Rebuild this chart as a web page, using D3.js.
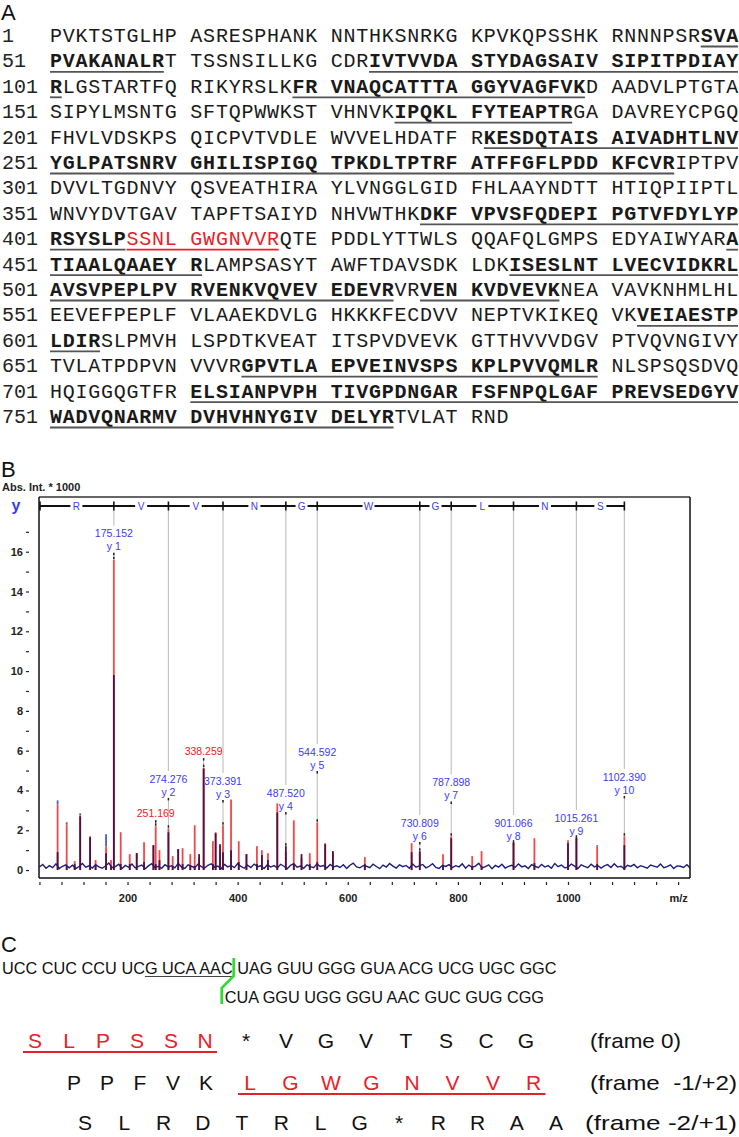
<!DOCTYPE html>
<html>
<head>
<meta charset="utf-8">
<script src="https://d3js.org/d3.v7.min.js"></script>
<style>
body { margin: 0; background: #fff; }
svg { display: block; }
</style>
</head>
<body>
<svg width="739" height="1137"></svg>
<script>
// ---------- panel A : protein sequence ----------
var seqRows = [
  "PVKTSTGLHP ASRESPHANK NNTHKSNRKG KPVKQPSSHK RNNNPSRSVA",
  "PVAKANALRT TSSNSILLKG CDRIVTVVDA STYDAGSAIV SIPITPDIAY",
  "RLGSTARTFQ RIKYRSLKFR VNAQCATTTA GGYVAGFVKD AADVLPTGTA",
  "SIPYLMSNTG SFTQPWWKST VHNVKIPQKL FYTEAPTRGA DAVREYCPGQ",
  "FHVLVDSKPS QICPVTVDLE WVVELHDATF RKESDQTAIS AIVADHTLNV",
  "YGLPATSNRV GHILISPIGQ TPKDLTPTRF ATFFGFLPDD KFCVRIPTPV",
  "DVVLTGDNVY QSVEATHIRA YLVNGGLGID FHLAAYNDTT HTIQPIIPTL",
  "WNVYDVTGAV TAPFTSAIYD NHVWTHKDKF VPVSFQDEPI PGTVFDYLYP",
  "RSYSLPSSNL GWGNVVRQTE PDDLYTTWLS QQAFQLGMPS EDYAIWYARA",
  "TIAALQAAEY RLAMPSASYT AWFTDAVSDK LDKISESLNT LVECVIDKRL",
  "AVSVPEPLPV RVENKVQVEV EDEVRVRVEN KVDVEVKNEA VAVKNHMLHL",
  "EEVEFPEPLF VLAAEKDVLG HKKKFECDVV NEPTVKIKEQ VKVEIAESTP",
  "LDIRSLPMVH LSPDTKVEAT ITSPVDVEVK GTTHVVVDGV PTVQVNGIVY",
  "TVLATPDPVN VVVRGPVTLA EPVEINVSPS KPLPVVQMLR NLSPSQSDVQ",
  "HQIGGQGTFR ELSIANPVPH TIVGPDNGAR FSFNPQLGAF PREVSEDGYV",
  "WADVQNARMV DVHVHNYGIV DELYRTVLAT RND"
];
// identified peptides (residue ranges, bold + underlined)
var peptides = [[48,59],[74,101],[119,139],[176,188],[232,295],[378,406],
                [450,461],[484,525],[528,537],[593,604],[665,690],[711,775]];
// frameshift peptide (red)
var redPeptide = [407,417];

// ---------- panel B : MS/MS spectrum ----------
var ionNames    = ["y 1","y 2","y 3","y 4","y 5","y 6","y 7","y 8","y 9","y 10"];
var ionMz       = [175.152, 274.276, 373.391, 487.520, 544.592, 730.809, 787.898, 901.066, 1015.261, 1102.390];
var ionLabels   = ["175.152","274.276","373.391","487.520","544.592","730.809","787.898","901.066","1015.261","1102.390"];
var ionLabelLvl = [16.9, 4.58, 4.47, 3.87, 5.93, 2.36, 4.4, 2.36, 2.6, 4.68];
var ionResidues = ["R","V","V","N","G","W","G","L","N","S"];
var otherMz     = [251.169, 338.259];
var otherLabels = ["251.169","338.259"];
var otherLvl    = [2.86, 5.98];
// peaks: [m/z, red stick, dark profile, blue tip]
var peaks = [
  [73,3.3,0.9,3.5],[89.5,2.3,0.2,2.4],[104,0.45,0.3,0],[114,2.75,2.7,2.85],[132,1.7,1.65,0],
  [142,0.5,0.2,0],[161,1.2,0.85,1.8],[170,0.5,0.2,0],[175.152,15.6,9.8,0],[187.6,1.9,0.3,0],
  [204,0.8,0.3,0],[216.7,0.85,0.85,0],[230,1.4,0.4,0],[247,1.25,1.25,0],[251.169,2.2,0.3,0],
  [258,1.0,0.5,0],[274.276,2.1,1.9,0],[282,0.7,0.2,0],[292,1.05,1.05,0],[300,1.1,0.3,0],
  [314,0.8,0.2,0],[322,2.25,0.2,0],[330,0.6,0.8,0],[338.259,5.15,5.1,0],[355,1.45,0.3,0],
  [360,1.9,1.85,0],[368,0.9,1.3,0],[373.391,2.25,0.9,0],[388,3.55,1.0,0],[402,1.45,0.4,0],
  [416,0.8,0.8,0],[435,1.2,0.3,0],[444,1.0,0.75,0],[455,0.85,0.5,0],[472,3.35,2.9,0],
  [487.52,0.9,1.2,0],[502,2.5,0.3,0],[516,0.6,0.8,0],[531,0.85,0.3,0],[544.592,2.4,0.4,0],
  [559,1.35,1.3,0],[573,0.9,0.95,0],[631,0.65,0.3,0],[716,1.35,0.9,0],[730.809,0.9,0.95,0],
  [773,0.8,0.2,0],[787.898,1.7,1.6,0],[826,0.7,0.2,0],[843,0.95,0.2,0],[901.066,1.35,1.35,0],
  [939,1.6,0.35,0],[1000,1.5,1.35,0],[1015.261,1.55,1.6,0],[1053,1.2,0.3,1.25],[1102.39,1.7,1.25,0]
];
// baseline noise of the profile trace, every 6 m/z from 40
var noise = [
  .15,.28,.09,.22,.12,.31,.08,.19,.26,.11, .24,.07,.18,.33,.14,.21,.10,.27,.16,.09,
  .20,.35,.12,.17,.29,.08,.23,.14,.30,.11, .18,.25,.06,.21,.32,.13,.19,.09,.27,.16,
  .22,.11,.34,.15,.08,.26,.19,.12,.29,.17, .10,.24,.31,.14,.20,.07,.28,.16,.23,.12,
  .33,.18,.09,.25,.13,.30,.17,.21,.08,.27, .15,.22,.11,.29,.19,.06,.24,.32,.14,.20,
  .09,.26,.17,.12,.31,.18,.23,.10,.28,.15, .21,.13,.27,.08,.24,.35,.16,.11,.22,.19,
  .12,.29,.18,.07,.25,.15,.33,.20,.10,.26, .17,.23,.09,.30,.14,.21,.28,.11,.19,.32,
  .13,.08,.24,.18,.27,.12,.22,.16,.31,.09, .25,.14,.20,.34,.11,.17,.26,.07,.23,.15,
  .29,.10,.18,.24,.13,.31,.16,.21,.08,.27, .19,.12,.28,.15,.22,.09,.33,.17,.25,.11,
  .14,.30,.20,.08,.26,.18,.12,.29,.16,.23, .10,.21,.27,.13,.32,.15,.19,.07,.24,.18,
  .28,.11,.22,.16,.09,.25,.20,.14,.30,.12, .17,.26,.08,.21,.19,.13,.27,.10
];
var yTicks = [0,2,4,6,8,10,12,14,16];
var xTicks = [200,400,600,800,1000];

// ---------- panel C : RNA and reading frames ----------
var rnaTop = "UCC CUC CCU UCG UCA AAC UAG GUU GGG GUA ACG UCG UGC GGC";
var rnaBottom = "CUA GGU UGG GGU AAC GUC GUG CGG";
var frameNames = ["(frame 0)", "(frame  -1/+2)", "(frame -2/+1)"];
var frameGroups = [
  [{aa:"SLPSSN", red:true}, {aa:"*VGVTSCG", red:false}],
  [{aa:"PPFVK", red:false}, {aa:"LGWGNVVR", red:true}],
  [{aa:"SLRDTRLG*RRAA", red:false}]
];

// ======================================================
var svg = d3.select("svg");
var mono = "'Liberation Mono','Courier New',monospace";
var sans = "'Liberation Sans',Arial,sans-serif";
var red = "#e8202a";
var blue = "#3b3bf5";

// panel letters
[["A",20],["B",477],["C",952]].forEach(function(p){
  svg.append("text").attr("x",1).attr("y",p[1]).text(p[0])
    .style("font-family",sans).style("font-size","22px").attr("fill","#111");
});

// ---- panel A
function styleOf(res){
  if (res >= redPeptide[0] && res <= redPeptide[1]) return "red";
  for (var i=0;i<peptides.length;i++) if (res>=peptides[i][0] && res<=peptides[i][1]) return "bold";
  return "plain";
}
var cw = 12.76, x0 = 50, rowBase = 42, rowStep = 25.4;
var gA = svg.append("g").style("font-family",mono).style("font-size","20px");
seqRows.forEach(function(row, r){
  var first = r*50 + 1, base = rowBase + r*rowStep;
  gA.append("text").attr("x",2).attr("y",base).attr("fill","#222").text(first);
  var chars = [], col = 0, k = 0;
  for (var i=0;i<row.length;i++){
    var c = row[i];
    if (c !== " ") { chars.push({c:c, col:col, res:first+k, st:styleOf(first+k)}); k++; }
    col++;
  }
  var runs = [];
  chars.forEach(function(d){
    var last = runs[runs.length-1];
    if (last && last.st === d.st) last.items.push(d); else runs.push({st:d.st, items:[d]});
  });
  runs.forEach(function(run){
    gA.append("text")
      .attr("x", run.items.map(function(d){return x0 + d.col*cw;}).join(" "))
      .attr("y", base)
      .attr("font-weight", run.st==="bold" ? "bold" : "normal")
      .attr("fill", run.st==="red" ? red : "#1a1a1a")
      .text(run.items.map(function(d){return d.c;}).join(""));
    if (run.st !== "plain") {
      var a = run.items[0], b = run.items[run.items.length-1];
      gA.append("line").attr("x1", x0 + a.col*cw).attr("x2", x0 + (b.col+1)*cw - 1)
        .attr("y1", base+4.5).attr("y2", base+4.5)
        .attr("stroke", run.st==="red" ? red : "#555").attr("stroke-width",1.8);
    }
  });
});

// ---- panel B
var pLeft = 39, pRight = 690, pTop = 497, pBottom = 878;
var x = d3.scaleLinear().domain([39.2, 1221.6]).range([pLeft, pRight]);
var y = d3.scaleLinear().domain([-0.4, 18.75]).range([pBottom, pTop]);

svg.append("text").attr("x",2).attr("y",491).text("Abs. Int. * 1000")
  .style("font-family",sans).style("font-size","11px").style("font-weight","bold").attr("fill","#222");

svg.append("defs").append("clipPath").attr("id","plotclip")
  .append("rect").attr("x",pLeft).attr("y",pTop).attr("width",pRight-pLeft).attr("height",pBottom-pTop);
var gB = svg.append("g");
var plot = gB.append("g").attr("clip-path","url(#plotclip)");

// gray guide lines from ladder to labels
ionMz.forEach(function(m,i){
  plot.append("line").attr("x1",x(m)).attr("x2",x(m))
    .attr("y1",510).attr("y2",y(ionLabelLvl[i])-8)
    .attr("stroke","#c4c4c4").attr("stroke-width",1.2);
});

// red sticks
plot.selectAll(".red").data(peaks).enter().append("line")
  .attr("x1",function(d){return x(d[0]);}).attr("x2",function(d){return x(d[0]);})
  .attr("y1",y(0)).attr("y2",function(d){return y(d[1]);})
  .attr("stroke","#f04848").attr("stroke-width",1.8);
// blue tips
plot.selectAll(".tip").data(peaks.filter(function(d){return d[3]>0;})).enter().append("line")
  .attr("x1",function(d){return x(d[0]);}).attr("x2",function(d){return x(d[0]);})
  .attr("y1",function(d){return y(d[1]);}).attr("y2",function(d){return y(d[3]);})
  .attr("stroke","#4e5bc2").attr("stroke-width",1.8);
// noise trace
plot.append("path").datum(noise)
  .attr("d", d3.line().x(function(d,i){return x(40 + i*6);}).y(function(d){return y(d);}))
  .attr("fill","none").attr("stroke","#1d1d7a").attr("stroke-width",1.4);
// dark profile sticks
plot.selectAll(".dark").data(peaks).enter().append("line")
  .attr("x1",function(d){return x(d[0]);}).attr("x2",function(d){return x(d[0]);})
  .attr("y1",y(0)).attr("y2",function(d){return y(d[2]);})
  .attr("stroke","#4a1242").attr("stroke-width",1.8);

function peakTop(m){
  var best = peaks[0];
  peaks.forEach(function(p){ if (Math.abs(p[0]-m) < Math.abs(best[0]-m)) best = p; });
  return Math.max(best[1], best[2], best[3]);
}
function connector(m, yStart){
  var yEnd = y(peakTop(m)) - 1;
  plot.append("line").attr("x1",x(m)).attr("x2",x(m)).attr("y1",yStart).attr("y2",yEnd)
    .attr("stroke","#bbb").attr("stroke-width",1);
  [yStart, yEnd-2].forEach(function(v){
    plot.append("line").attr("x1",x(m)).attr("x2",x(m)).attr("y1",v).attr("y2",v+2.5)
      .attr("stroke","#222").attr("stroke-width",1.5);
  });
}
var lab = gB.append("g").style("font-family",sans).style("font-size","10.5px");
ionMz.forEach(function(m,i){
  var ly = y(ionLabelLvl[i]);
  lab.append("text").attr("x",x(m)).attr("y",ly).attr("dy","0.35em").attr("text-anchor","middle")
    .attr("fill",blue).text(ionLabels[i]);
  lab.append("text").attr("x",x(m)).attr("y",ly+13).attr("dy","0.35em").attr("text-anchor","middle")
    .attr("fill",blue).text(ionNames[i]);
  connector(m, ly+19);
});
otherMz.forEach(function(m,i){
  var ly = y(otherLvl[i]);
  lab.append("text").attr("x",x(m)).attr("y",ly).attr("dy","0.35em").attr("text-anchor","middle")
    .attr("fill","#f02020").text(otherLabels[i]);
  connector(m, ly+7);
});

// ion ladder
var ladderY = 506;
var ladderPts = [x.domain()[0]].concat(ionMz);
gB.append("line").attr("x1",x(ladderPts[0])+1).attr("x2",x(ionMz[ionMz.length-1]))
  .attr("y1",ladderY).attr("y2",ladderY).attr("stroke","#111").attr("stroke-width",2);
ladderPts.forEach(function(m,i){
  var xx = i===0 ? x(m)+1 : x(m);
  gB.append("line").attr("x1",xx).attr("x2",xx).attr("y1",ladderY-4.5).attr("y2",ladderY+4.5)
    .attr("stroke","#111").attr("stroke-width",1.6);
});
ionResidues.forEach(function(r,i){
  var cx = (x(ladderPts[i]) + x(ladderPts[i+1]))/2;
  gB.append("rect").attr("x",cx-6).attr("y",ladderY-5).attr("width",12).attr("height",10).attr("fill","#fff");
  gB.append("text").attr("x",cx).attr("y",ladderY).attr("dy","0.35em").attr("text-anchor","middle")
    .style("font-family",sans).style("font-size","10px").attr("fill",blue).text(r);
});
gB.append("text").attr("x",16).attr("y",ladderY).attr("dy","0.3em").attr("text-anchor","middle")
  .style("font-family",sans).style("font-size","16px").style("font-weight","bold").attr("fill",blue).text("y");

// frame
gB.append("line").attr("x1",pLeft).attr("x2",pRight).attr("y1",pTop).attr("y2",pTop).attr("stroke","#666").attr("stroke-width",2);
gB.append("line").attr("x1",pLeft).attr("x2",pLeft).attr("y1",pTop).attr("y2",pBottom).attr("stroke","#111").attr("stroke-width",1.5);
gB.append("line").attr("x1",pRight).attr("x2",pRight).attr("y1",pTop).attr("y2",pBottom).attr("stroke","#111").attr("stroke-width",1.5);
gB.append("line").attr("x1",pLeft).attr("x2",pRight).attr("y1",pBottom).attr("y2",pBottom).attr("stroke","#111").attr("stroke-width",1.5);

// axes
var yMinor = d3.range(1,18,2);
var ya = gB.append("g").attr("transform","translate(29,0)")
  .call(d3.axisLeft(y).tickValues(yTicks.concat(yMinor)).tickSize(3).tickPadding(3)
    .tickFormat(function(d){ return yTicks.indexOf(d) >= 0 ? d : ""; }));
ya.select(".domain").remove();
var xMinor = d3.range(40,1201,40);
var xa = gB.append("g").attr("transform","translate(0,882)")
  .call(d3.axisBottom(x).tickValues(xMinor).tickSize(3).tickPadding(9)
    .tickFormat(function(d){ return xTicks.indexOf(d) >= 0 ? d : (d===1200 ? "m/z" : ""); }));
xa.select(".domain").remove();
[ya, xa].forEach(function(g){
  g.selectAll("text").style("font-family",sans).style("font-size","11px").style("font-weight","bold").attr("fill","#222");
  g.selectAll("line").attr("stroke","#222").attr("stroke-width",1.2);
});

// ---- panel C
var gC = svg.append("g").style("font-family",sans);
var t1 = gC.append("text").attr("x",2).attr("y",974).style("font-size","16.3px").attr("fill","#111").text(rnaTop);
var n1 = t1.node();
var ulStart = 2 + n1.getSubStringLength(0,14);
var ulEnd = 2 + n1.getSubStringLength(0,23);
gC.append("line").attr("x1",ulStart).attr("x2",ulEnd).attr("y1",976.5).attr("y2",976.5)
  .attr("stroke","#444").attr("stroke-width",1);
var gx = ulEnd + 1;
gC.append("path").attr("d","M"+gx+",958 L"+gx+",976 L"+(gx-12)+",988 L"+(gx-12)+",1004")
  .attr("fill","none").attr("stroke","#2ddc2d").attr("stroke-width",2.6);
gC.append("text").attr("x",gx-9).attr("y",1003).style("font-size","16.3px").attr("fill","#111").text(rnaBottom);

var frameLayout = [
  {base:1048, labelX:590, labelW:91,  groups:[[35,34],[246,40]]},
  {base:1090, labelX:590, labelW:147, groups:[[74,33],[250,40.5]]},
  {base:1130, labelX:585, labelW:152, groups:[[85,39.25]]}
];
frameGroups.forEach(function(groups, f){
  var L = frameLayout[f];
  groups.forEach(function(g, j){
    var start = L.groups[j][0], step = L.groups[j][1];
    var letters = g.aa.split("");
    letters.forEach(function(a,i){
      gC.append("text").attr("x",start+i*step).attr("y",L.base).attr("text-anchor","middle")
        .style("font-size","21px").attr("fill", g.red ? red : "#111").text(a);
    });
    if (g.red) {
      gC.append("line").attr("x1",start-12).attr("x2",start+(letters.length-1)*step+12)
        .attr("y1",L.base+4).attr("y2",L.base+4).attr("stroke",red).attr("stroke-width",1.8);
    }
  });
  gC.append("text").attr("x",L.labelX).attr("y",L.base).style("font-size","21px")
    .style("white-space","pre").attr("textLength",L.labelW).attr("lengthAdjust","spacingAndGlyphs")
    .attr("fill","#111").text(frameNames[f]);
});
</script>
</body>
</html>
